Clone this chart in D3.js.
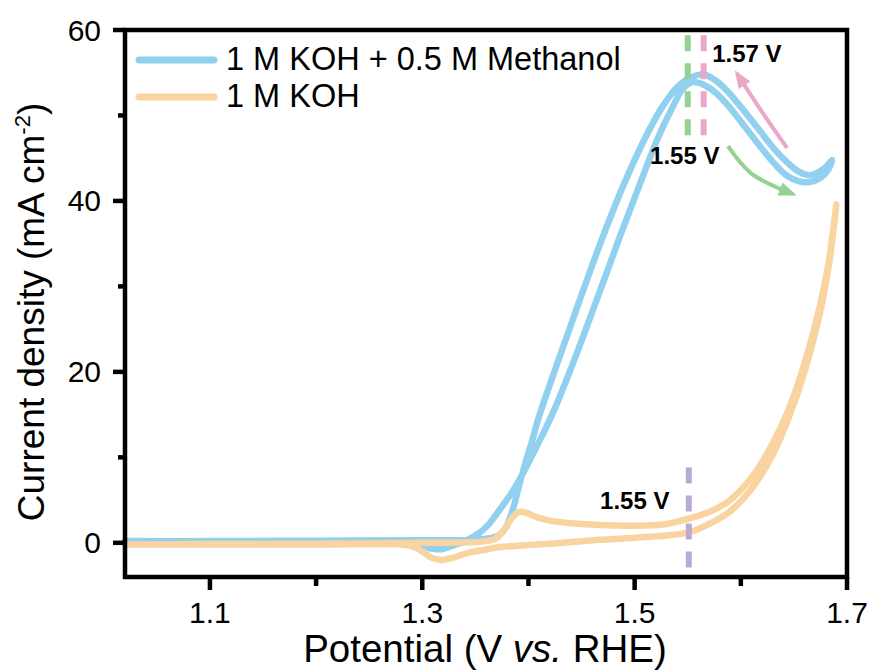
<!DOCTYPE html>
<html>
<head>
<meta charset="utf-8">
<script src="https://cdn.jsdelivr.net/npm/d3@7"></script>
<style>
  body { margin: 0; background: #fff; }
  svg { display: block; }
  text { font-family: Arial, "Liberation Sans", sans-serif; fill: #000; }
</style>
</head>
<body>
<svg id="chart"></svg>
<script>
var W = 873, H = 671
var margin = {top: 30, right: 26, bottom: 94, left: 125}

// methanol CV, forward (anodic) then backward scan: [V, mA cm-2]
var meohForward = [
  [1.02, 0.2], [1.10, 0.2], [1.20, 0.25], [1.30, 0.3], [1.35, 0.35], [1.362, 0.5],
  [1.371, 0.8], [1.376, 1.3], [1.381, 2.4], [1.386, 4.2], [1.391, 6.6], [1.397, 9.3],
  [1.404, 12.2], [1.41, 14.8], [1.43, 22.0], [1.45, 29.0], [1.47, 35.8], [1.49, 42.0],
  [1.51, 47.4], [1.525, 50.8], [1.54, 53.3], [1.552, 54.4], [1.565, 54.8], [1.575, 54.2],
  [1.587, 52.9], [1.60, 51.0], [1.618, 48.2], [1.63, 46.3], [1.643, 44.6], [1.655, 43.4],
  [1.665, 43.0], [1.675, 43.5], [1.682, 44.2], [1.686, 44.8]
]
var meohBackward = [
  [1.686, 44.8], [1.682, 43.6], [1.675, 42.7], [1.665, 42.2], [1.655, 42.3], [1.643, 43.0],
  [1.63, 44.6], [1.618, 46.4], [1.60, 49.3], [1.587, 51.3], [1.575, 52.8], [1.565, 53.6],
  [1.555, 53.9], [1.546, 53.2], [1.535, 50.8], [1.522, 47.4], [1.505, 42.0], [1.486, 35.8],
  [1.466, 29.0], [1.445, 22.0], [1.423, 15.2], [1.405, 10.6], [1.396, 8.4], [1.385, 6.0],
  [1.373, 3.9], [1.362, 2.1], [1.354, 1.2], [1.342, 0.3], [1.329, -0.3], [1.318, -0.75],
  [1.31, -0.7], [1.30, -0.35], [1.29, -0.05], [1.28, 0.1], [1.20, 0.1], [1.02, 0.05]
]

// KOH only CV
var kohForward = [
  [1.02, -0.2], [1.10, -0.15], [1.20, -0.1], [1.30, 0.0], [1.36, 0.2], [1.37, 0.6],
  [1.378, 1.7], [1.385, 3.0], [1.391, 3.6], [1.398, 3.5], [1.408, 3.0], [1.42, 2.6],
  [1.45, 2.2], [1.50, 2.0], [1.53, 2.2], [1.55, 2.8], [1.57, 3.6], [1.59, 5.0],
  [1.61, 7.6], [1.63, 11.6], [1.645, 15.6], [1.66, 21.0], [1.675, 28.0], [1.683, 33.0],
  [1.69, 39.6]
]
var kohBackward = [
  [1.69, 39.6], [1.683, 32.6], [1.675, 27.2], [1.66, 20.0], [1.645, 14.6], [1.63, 10.3],
  [1.61, 6.3], [1.59, 3.7], [1.57, 2.2], [1.55, 1.2], [1.50, 0.6], [1.467, 0.35],
  [1.42, -0.1], [1.39, -0.35], [1.373, -0.5], [1.355, -0.9], [1.342, -1.2], [1.33, -1.7],
  [1.318, -2.0], [1.308, -1.7], [1.30, -1.0], [1.29, -0.4], [1.28, -0.2], [1.20, -0.2],
  [1.02, -0.2]
]

var xTicks = [1.1, 1.3, 1.5, 1.7]
var xMinor = [1.2, 1.4, 1.6]
var yTicks = [0, 20, 40, 60]
var yMinor = [10, 30, 50]

var legendNames = ["1 M KOH + 0.5 M Methanol", "1 M KOH"]
var colors = ["#91d0ee", "#f9d3a0"]

// peak markers: [V, j top, j bottom]
var peakLines = [
  {v: 1.55, j0: 59.4, j1: 47.2, color: "#94d193"},
  {v: 1.565, j0: 59.4, j1: 47.2, color: "#eba7c7"},
  {v: 1.551, j0: 8.8, j1: -3.4, color: "#b9aad6"}
]
var peakLabels = [
  {text: "1.57 V", v: 1.573, j: 56.3},
  {text: "1.55 V", v: 1.5145, j: 44.3},
  {text: "1.55 V", v: 1.4674, j: 3.9}
]
var arrows = [
  {pts: [[1.6435, 46.2], [1.6195, 50.5], [1.5964, 54.9]], color: "#eba7c7"},
  {pts: [[1.5879, 46.4], [1.610, 43.2], [1.6491, 40.8]], color: "#94d193"}
]

var width = W - margin.left - margin.right,
    height = H - margin.top - margin.bottom

var svg = d3.select("#chart").attr("width", W).attr("height", H)

var x = d3.scaleLinear().domain([1.02, 1.7]).range([margin.left, margin.left + width])
var y = d3.scaleLinear().domain([-4, 60]).range([margin.top + height, margin.top])

var defs = svg.append("defs")
arrows.forEach((a, i) => {
  defs.append("marker")
      .attr("id", "head" + i)
      .attr("markerUnits", "userSpaceOnUse")
      .attr("viewBox", "0 -8 18 16")
      .attr("refX", 14).attr("refY", 0)
      .attr("markerWidth", 18).attr("markerHeight", 16)
      .attr("orient", "auto")
    .append("path")
      .attr("d", "M0,-7L18,0L0,7Z")
      .attr("fill", a.color)
})

var line = d3.line()
    .x(d => x(d[0]))
    .y(d => y(d[1]))
    .curve(d3.curveCatmullRom.alpha(0.5))

// curves: methanol under, KOH above
;[[meohForward, meohBackward], [kohForward, kohBackward]].forEach((c, i) => {
  svg.append("path")
      .attr("d", line(c[0].concat(c[1].slice(1))))
      .attr("fill", "none")
      .attr("stroke", colors[i])
      .attr("stroke-width", 6.5)
      .attr("stroke-linejoin", "round")
      .attr("stroke-linecap", "round")
})

// dashed peak lines
peakLines.forEach(p => {
  svg.append("line")
      .attr("x1", x(p.v)).attr("x2", x(p.v))
      .attr("y1", y(p.j0)).attr("y2", y(p.j1))
      .attr("stroke", p.color)
      .attr("stroke-width", 6)
      .attr("stroke-dasharray", "16,12")
})

arrows.forEach((a, i) => {
  svg.append("path")
      .attr("d", d3.line().x(d => x(d[0])).y(d => y(d[1])).curve(d3.curveCatmullRom)(a.pts))
      .attr("fill", "none")
      .attr("stroke", a.color)
      .attr("stroke-width", 4)
      .attr("marker-end", "url(#head" + i + ")")
})

peakLabels.forEach(l => {
  svg.append("text")
      .attr("x", x(l.v)).attr("y", y(l.j))
      .style("font-size", "24px")
      .style("font-weight", "bold")
      .text(l.text)
})

// axes box
var yAx = margin.top + height
svg.append("rect")
    .attr("x", margin.left).attr("y", margin.top)
    .attr("width", width).attr("height", height)
    .attr("fill", "none").attr("stroke", "#000").attr("stroke-width", 4.5)

var gx = svg.append("g")
xTicks.forEach(t => {
  gx.append("line").attr("x1", x(t)).attr("x2", x(t)).attr("y1", yAx).attr("y2", yAx + 13)
    .attr("stroke", "#000").attr("stroke-width", 4.5)
  gx.append("text").attr("x", x(t)).attr("y", 623).attr("text-anchor", "middle")
    .style("font-size", "30px").text(d3.format(".1f")(t))
})
xMinor.forEach(t => {
  gx.append("line").attr("x1", x(t)).attr("x2", x(t)).attr("y1", yAx).attr("y2", yAx + 9)
    .attr("stroke", "#000").attr("stroke-width", 4.5)
})

var gy = svg.append("g")
yTicks.forEach(t => {
  gy.append("line").attr("x1", margin.left - 12).attr("x2", margin.left).attr("y1", y(t)).attr("y2", y(t))
    .attr("stroke", "#000").attr("stroke-width", 4.5)
  gy.append("text").attr("x", 101).attr("y", y(t)).attr("dy", "0.35em").attr("text-anchor", "end")
    .style("font-size", "30px").text(t)
})
yMinor.forEach(t => {
  gy.append("line").attr("x1", margin.left - 7).attr("x2", margin.left).attr("y1", y(t)).attr("y2", y(t))
    .attr("stroke", "#000").attr("stroke-width", 4.5)
})

// axis titles
var xt = svg.append("text")
    .attr("x", 485).attr("y", 662)
    .attr("text-anchor", "middle")
    .style("font-size", "38.5px")
xt.append("tspan").text("Potential (V ")
xt.append("tspan").style("font-style", "italic").text("vs.")
xt.append("tspan").text(" RHE)")

var yt = svg.append("text")
    .attr("transform", "translate(44,312) rotate(-90)")
    .attr("text-anchor", "middle")
    .style("font-size", "37px")
yt.append("tspan").text("Current density (mA cm")
yt.append("tspan").attr("dy", -14).style("font-size", "22px").text("-2")
yt.append("tspan").attr("dy", 14).text(")")

// legend
legendNames.forEach((name, i) => {
  var ly = 60 + i * 37
  svg.append("line")
      .attr("x1", 139).attr("x2", 214).attr("y1", ly).attr("y2", ly)
      .attr("stroke", colors[i]).attr("stroke-width", 7).attr("stroke-linecap", "round")
  svg.append("text")
      .attr("x", 226).attr("y", ly + 10)
      .style("font-size", "32.5px")
      .text(name)
})
</script>
</body>
</html>
